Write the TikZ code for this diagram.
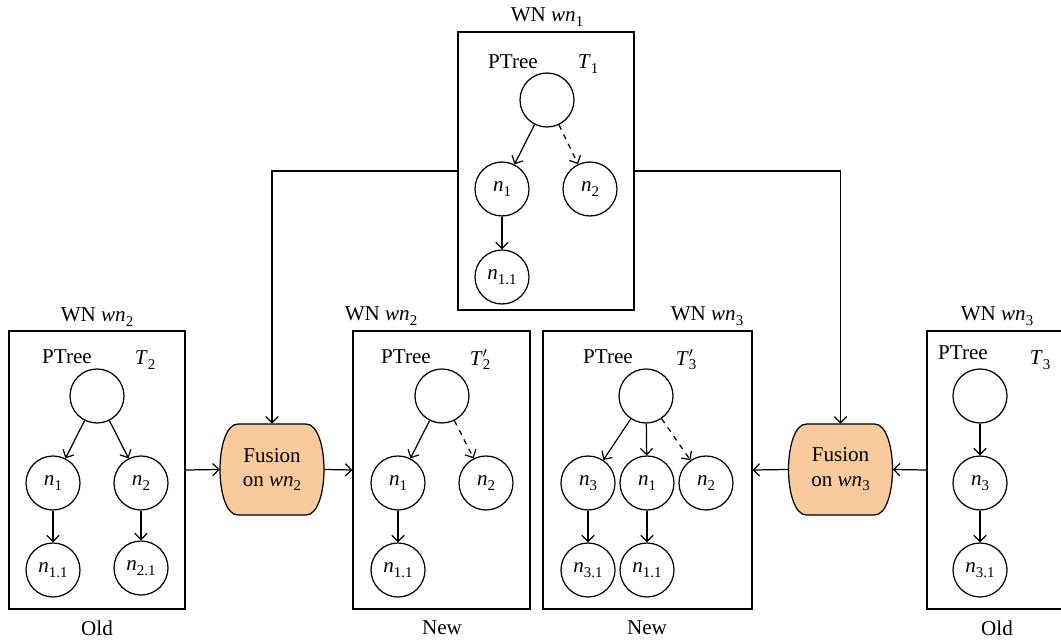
\documentclass[tikz,border=0pt]{standalone}
\usepackage{fontspec}
\setmainfont{Liberation Serif}
\usetikzlibrary{arrows.meta,positioning,calc,backgrounds}

\definecolor{fusionfill}{RGB}{249,203,156}

\newcommand{\subidx}[1]{\raisebox{-0.45ex}{\fontsize{8.5}{9}\selectfont #1}}
\newcommand{\itsub}[2]{\textit{#1}\subidx{#2}}
\newcommand{\itpr}[2]{\textit{#1}\rlap{$^{\prime}$}\subidx{#2}}

\begin{document}
\begin{tikzpicture}[
    x=0.02cm, y=-0.02cm,
    font=\fontsize{12}{14}\selectfont,
    wnbox/.style={draw, rectangle, line width=0.7pt, minimum height=5.56cm, inner sep=0pt},
    tnode/.style={draw, circle, line width=0.7pt, minimum size=1.08cm, inner sep=0pt},
    fusion/.style={minimum width=2.08cm, minimum height=1.82cm, align=center, inner sep=0pt},
    edge/.style={-{Straight Barb[length=3.5pt,width=7pt]}, line width=0.7pt},
]

\useasboundingbox (0,0) rectangle (1061,641);
\clip (0,0) rectangle (1061,641);

% WN wn1 (shared)
\node[wnbox, minimum width=3.52cm] (wn1) at (546,171) {};
\node (wn1t) at (547,17) {WN \itsub{wn}{1}};
\node (pt1) at (513,62) {PTree};
\node (tt1) at (588,64) {\itsub{T}{1}};
\node[tnode] (r1) at (547,100) {};
\node[tnode] (a1) at (502,189) {\itsub{n}{1}};
\node[tnode] (b1) at (590,189) {\itsub{n}{2}};
\node[tnode] (c1) at (502,277) {\itsub{n}{1.1}};
\draw[edge] (r1) -- (a1);
\draw[edge, dashed] (r1) -- (b1);
\draw[edge] (a1) -- (c1);

% WN wn2, old
\node[wnbox, minimum width=3.52cm] (old2) at (97,470) {};
\node (old2t) at (97,317) {WN \itsub{wn}{2}};
\node (old2s) at (97,628) {Old};
\node (pt2) at (67,357) {PTree};
\node (tt2) at (145,360) {\itsub{T}{2}};
\node[tnode] (r2) at (97,396) {};
\node[tnode] (a2) at (53,483) {\itsub{n}{1}};
\node[tnode] (b2) at (141,483) {\itsub{n}{2}};
\node[tnode] (c2) at (53,570) {\itsub{n}{1.1}};
\node[tnode] (d2) at (141,568) {\itsub{n}{2.1}};
\draw[edge] (r2) -- (a2);
\draw[edge] (r2) -- (b2);
\draw[edge] (a2) -- (c2);
\draw[edge] (b2) -- (d2);

% WN wn2, new
\node[wnbox, minimum width=3.54cm] (new2) at (441.5,470) {};
\node (new2t) at (381,316) {WN \itsub{wn}{2}};
\node (new2s) at (442,628) {New};
\node (pt2n) at (406,357) {PTree};
\node (tt2n) at (480,360) {\itpr{T}{2}};
\node[tnode] (r2n) at (442,396) {};
\node[tnode] (a2n) at (398,483) {\itsub{n}{1}};
\node[tnode] (b2n) at (486,483) {\itsub{n}{2}};
\node[tnode] (c2n) at (398,570) {\itsub{n}{1.1}};
\draw[edge] (r2n) -- (a2n);
\draw[edge, dashed] (r2n) -- (b2n);
\draw[edge] (a2n) -- (c2n);

% WN wn3, new
\node[wnbox, minimum width=4.18cm] (new3) at (647.5,470) {};
\node (new3t) at (707,316) {WN \itsub{wn}{3}};
\node (new3s) at (647,628) {New};
\node (pt3n) at (608,357) {PTree};
\node (tt3n) at (686,360) {\itpr{T}{3}};
\node[tnode] (r3n) at (646,396) {};
\node[tnode] (a3n) at (588,483) {\itsub{n}{3}};
\node[tnode] (b3n) at (647,483) {\itsub{n}{1}};
\node[tnode] (c3n) at (706,483) {\itsub{n}{2}};
\node[tnode] (d3n) at (588,570) {\itsub{n}{3.1}};
\node[tnode] (e3n) at (647,570) {\itsub{n}{1.1}};
\draw[edge] (r3n) -- (a3n);
\draw[edge] (r3n) -- (b3n);
\draw[edge, dashed] (r3n) -- (c3n);
\draw[edge] (a3n) -- (d3n);
\draw[edge] (b3n) -- (e3n);

% WN wn3, old
\node[wnbox, minimum width=2.84cm] (old3) at (998,470) {};
\node (old3t) at (997,316) {WN \itsub{wn}{3}};
\node (old3s) at (997,628) {Old};
\node (pt3) at (963,353) {PTree};
\node (tt3) at (1040,360) {\itsub{T}{3}};
\node[tnode] (r3) at (980,396) {};
\node[tnode] (a3) at (980,483) {\itsub{n}{3}};
\node[tnode] (c3) at (980,570) {\itsub{n}{3.1}};
\draw[edge] (r3) -- (a3);
\draw[edge] (a3) -- (c3);

% Fusion steps
\node[fusion] (fus2) at (272,469.5) {Fusion\\on \itsub{wn}{2}};
\node[fusion] (fus3) at (840.5,469.5) {Fusion\\on \itsub{wn}{3}};

\begin{scope}[on background layer]
\foreach \f in {fus2,fus3}
  \draw[fill=fusionfill, line width=0.7pt]
    ($(\f.center)+(-34,-45.5)$) -- ($(\f.center)+(34,-45.5)$)
    .. controls ($(\f.center)+(46,-45.5)$) and ($(\f.center)+(52,-22)$) .. ($(\f.center)+(52,0)$)
    .. controls ($(\f.center)+(52,22)$) and ($(\f.center)+(46,45.5)$) .. ($(\f.center)+(34,45.5)$)
    -- ($(\f.center)+(-34,45.5)$)
    .. controls ($(\f.center)+(-46,45.5)$) and ($(\f.center)+(-52,22)$) .. ($(\f.center)+(-52,0)$)
    .. controls ($(\f.center)+(-52,-22)$) and ($(\f.center)+(-46,-45.5)$) .. cycle;
\end{scope}

\draw[edge] (wn1.west) -| (fus2.north);
\draw[edge] (wn1.east) -| (fus3.north);
\draw[edge] (old2.east) -- (fus2.west);
\draw[edge] (fus2.east) -- (new2.west);
\draw[edge] (old3.west) -- (fus3.east);
\draw[edge] (fus3.west) -- (new3.east);

\end{tikzpicture}
\end{document}
